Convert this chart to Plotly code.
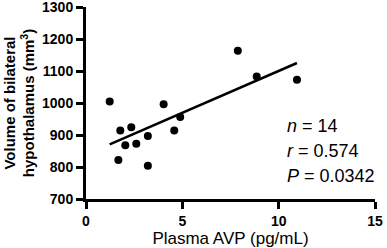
import numpy as np
import plotly.graph_objects as go

# Data
avp = [1.23, 1.78, 1.68, 2.04, 2.35, 2.61, 3.21, 3.21, 4.03, 4.58, 4.89, 7.88, 8.86, 10.95]
volume = [1005, 914, 822, 868, 924, 873, 897, 804, 996, 914, 956, 1163, 1083, 1073]
x_ticks = [0, 5, 10, 15]
y_ticks = [700, 800, 900, 1000, 1100, 1200, 1300]
stat_lines = ["<i>n</i> = 14", "<i>r</i> = 0.574", "<i>P</i> = 0.0342"]

FONT = "Arial, 'Liberation Sans', sans-serif"

slope, intercept = np.polyfit(avp, volume, 1)
fit_x = np.array([min(avp), max(avp)])
fit_y = slope * fit_x + intercept

fig = go.Figure()
fig.add_trace(go.Scatter(x=avp, y=volume, mode="markers",
                         marker=dict(color="black", size=8), showlegend=False,
                         cliponaxis=False))
fig.add_trace(go.Scatter(x=fit_x, y=fit_y, mode="lines",
                         line=dict(color="black", width=2.5), showlegend=False))

stat_y = [929, 851, 773]
for txt, yy in zip(stat_lines, stat_y):
    fig.add_annotation(x=10.35, y=yy, text=txt, showarrow=False,
                       xanchor="left", yanchor="middle",
                       font=dict(family=FONT, size=18, color="black"))

fig.update_layout(
    width=387, height=248,
    margin=dict(l=86, r=12, t=7, b=49, autoexpand=False),
    paper_bgcolor="white", plot_bgcolor="white",
    font=dict(family=FONT, color="black"),
    xaxis=dict(range=[0, 15], tickvals=x_ticks, showgrid=False, zeroline=False,
               showline=True, linecolor="black", linewidth=3, automargin=False,
               ticks="outside", ticklen=7, tickwidth=3, tickcolor="black",
               ticklabeloverflow="allow",
               tickfont=dict(family=FONT, size=14, color="black", weight="bold"),
               title=dict(text="Plasma AVP (pg/mL)", standoff=1,
                          font=dict(family=FONT, size=17, color="black"))),
    yaxis=dict(range=[700, 1300], tickvals=y_ticks, showgrid=False, zeroline=False,
               showline=True, linecolor="black", linewidth=3, automargin=False,
               ticks="outside", ticklen=7, tickwidth=3, tickcolor="black",
               ticklabeloverflow="allow",
               tickfont=dict(family=FONT, size=14, color="black", weight="bold"),
               title=dict(text="<b>Volume of bilateral<br>hypothalamus (mm<sup>3</sup>)</b>",
                          standoff=4,
                          font=dict(family=FONT, size=15, color="black"))),
)

fig.write_html("out.html", config={"displayModeBar": False},
               post_script="document.body.style.margin='0';document.body.style.overflow='hidden';")
